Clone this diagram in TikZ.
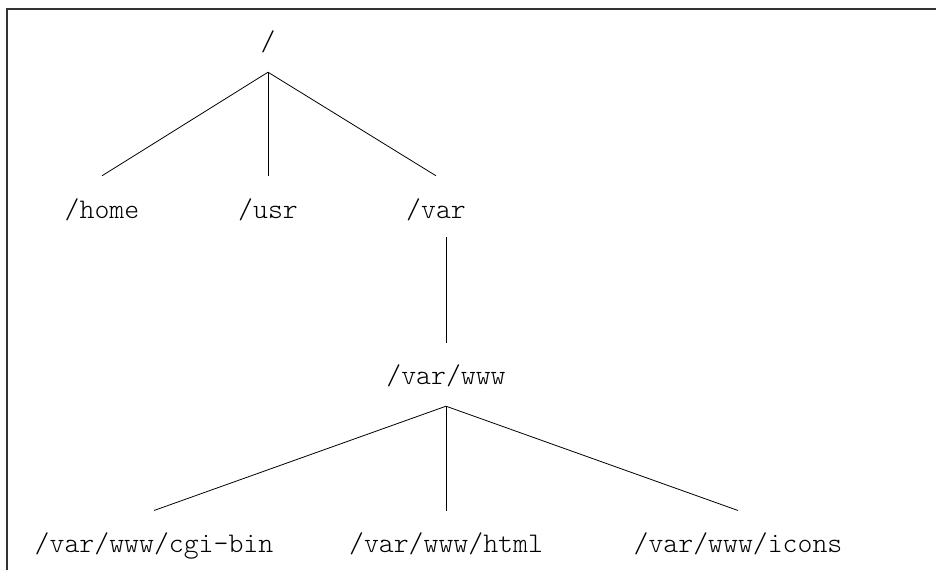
\documentclass[tikz,border=0pt]{standalone}
\usepackage{fontspec}
\usepackage{tikz}
\newfontfamily\dirfont{Latin Modern Mono Light}

\begin{document}
\begin{tikzpicture}[x = 1pt, y = 1pt, every node/.style = {font = \dirfont\fontsize{28.4}{34}\selectfont, inner sep = 0pt, text height = 18pt, text depth = 6pt}, edge/.style = {line width = .8pt}]
	\useasboundingbox (0, 0) rectangle (936, 570);
	\draw[line width = 1.4pt, black!80] (7, 0) |- (936, 561);
	\node (root) at (268, 525) {/};
	\node (home) at (102, 357) {/home};
	\node (usr) at (268, 357) {/usr};
	\node (var) at (436, 357) {/var};
	\node (www) at (446, 191) {/var/www};
	\node (cgi) at (154, 23.3) {/var/www/cgi-bin};
	\node (html) at (446, 23.3) {/var/www/html};
	\node (icons) at (738, 23.3) {/var/www/icons};
	\draw[edge] ([yshift = -15pt]root.south) -- ([yshift = 25pt]home.north);
	\draw[edge] ([yshift = -15pt]root.south) -- ([yshift = 25pt]usr.north);
	\draw[edge] ([yshift = -15pt]root.south) -- ([yshift = 25pt]var.north);
	\draw[edge] ([yshift = -12pt]var.south -| www.north) -- ([yshift = 24pt]www.north);
	\draw[edge] ([yshift = -15pt]www.south) -- ([yshift = 24pt]cgi.north);
	\draw[edge] ([yshift = -15pt]www.south) -- ([yshift = 24pt]html.north);
	\draw[edge] ([yshift = -15pt]www.south) -- ([yshift = 24pt]icons.north);
\end{tikzpicture}
\end{document}
